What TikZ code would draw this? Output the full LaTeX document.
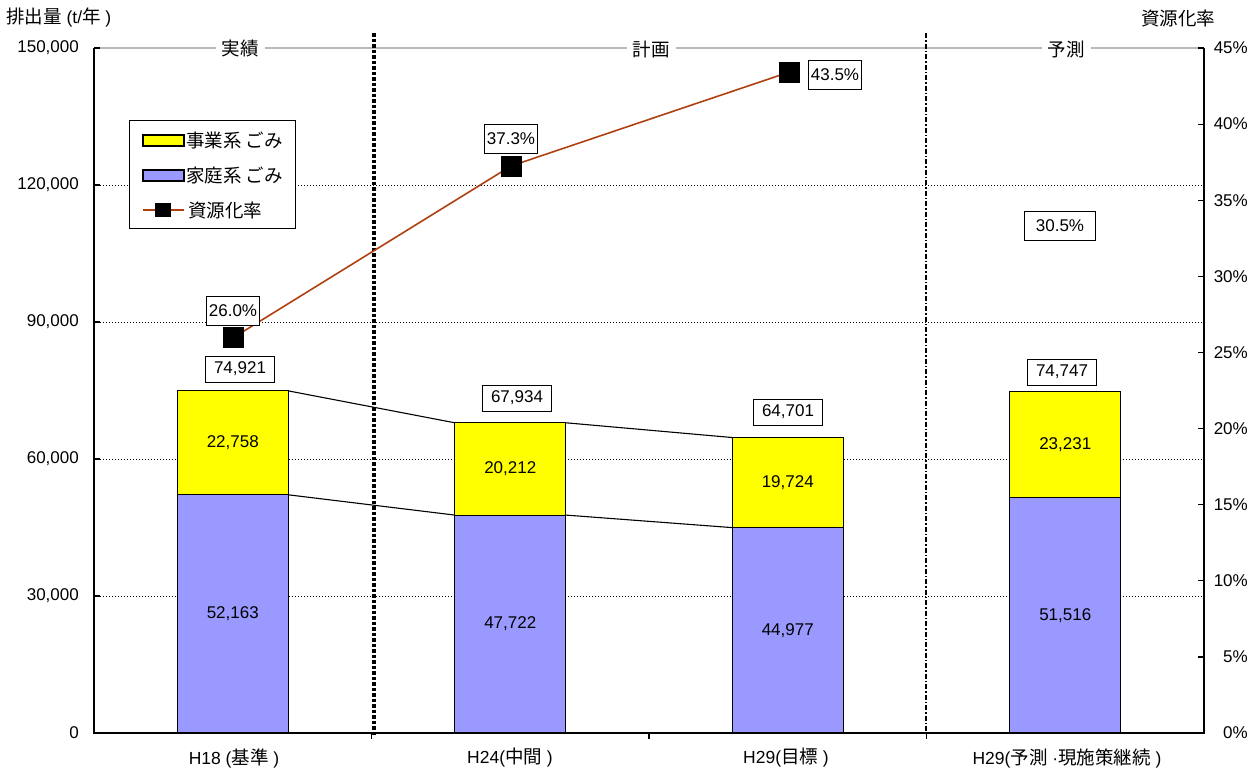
\documentclass[tikz,border=0pt]{standalone}
\usepackage{fontspec}
\setmainfont{Liberation Sans}
\newfontfamily\jp{Noto Sans CJK JP}
\newcommand\jpt[1]{{\jp\fontsize{18.5}{20}\selectfont #1}}
\definecolor{ybar}{RGB}{255,255,0}
\definecolor{bbar}{RGB}{153,153,255}
\definecolor{rline}{RGB}{176,64,16}
\begin{document}
\begin{tikzpicture}[x=1pt,y=-1pt,font=\fontsize{17}{19}\selectfont,
  gridln/.style={dotted, line width=1pt},
  barbox/.style={draw=black, line width=1pt, minimum width=111, inner sep=0, outer sep=0, anchor=south},
  valbox/.style={draw=black, fill=white, line width=1pt, minimum width=69, minimum height=26, inner sep=2pt},
  pctbox/.style={draw=black, fill=white, line width=1pt, minimum width=52, minimum height=29, inner sep=2pt},
  mk/.style={fill=black, minimum size=21, inner sep=0},
  axlab/.style={inner sep=0},
  catlab/.style={font=\fontsize{17.5}{19}\selectfont, inner sep=0},
  toplab/.style={fill=white, font=\jp\fontsize{18.5}{20}\selectfont, inner xsep=6pt, inner ysep=1pt},
  swatch/.style={draw=black, line width=1.2pt, minimum width=41, minimum height=11, inner sep=0},
  legtxt/.style={anchor=west, font=\jp\fontsize{18.5}{20}\selectfont, inner sep=0}]
\useasboundingbox (0,0) rectangle (1260,772);
\fill[white] (0,0) rectangle (1260,772);
% gridlines
\foreach \yy in {185,322,459,596} \draw[gridln] (94,\yy) -- (1204,\yy);
\draw[gray!55, line width=1.6pt] (94,48) -- (1204,48);
\node[toplab] (t1) at (240,49) {実績};
\node[toplab] (t2) at (651,49) {計画};
\node[toplab] (t3) at (1066,49) {予測};
% dividers
\draw[line width=3.6pt, dash pattern=on 3.5pt off 2pt] (374,33) -- (374,735);
\draw[line width=1.8pt, dash pattern=on 5pt off 2pt on 1.5pt off 2pt] (926,33) -- (926,733);
% bars
\node[barbox, fill=bbar, minimum height=238.21] (b1) at (232.75,733) {52,163};
\node[barbox, fill=ybar, minimum height=103.93] (y1) at (b1.north) {22,758};
\node[barbox, fill=bbar, minimum height=217.93] (b2) at (510.25,733) {47,722};
\node[barbox, fill=ybar, minimum height=92.30] (y2) at (b2.north) {20,212};
\node[barbox, fill=bbar, minimum height=205.39] (b3) at (787.75,733) {44,977};
\node[barbox, fill=ybar, minimum height=90.08] (y3) at (b3.north) {19,724};
\node[barbox, fill=bbar, minimum height=235.26] (b4) at (1065.25,733) {51,516};
\node[barbox, fill=ybar, minimum height=106.08] (y4) at (b4.north) {23,231};
% series lines
\draw[line width=1.1pt] (y1.north east) -- (y2.north west);
\draw[line width=1.1pt] (y2.north east) -- (y3.north west);
\draw[line width=1.1pt] (b1.north east) -- (b2.north west);
\draw[line width=1.1pt] (b2.north east) -- (b3.north west);
% totals
\node[valbox] (v1) at (240,369) {74,921};
\node[valbox] (v2) at (517,398) {67,934};
\node[valbox] (v3) at (788,412) {64,701};
\node[valbox] (v4) at (1062,372) {74,747};
% axes
\draw[line width=1.5pt] (94,48) -- (94,733) -- (1204,733) -- (1204,48);
\foreach \yy in {48,185,322,459,596} \draw[line width=1.2pt] (94,\yy) -- (100,\yy);
\foreach \k in {1,...,9} \draw[line width=1.2pt] (1204,733-76.111*\k) -- (1198,733-76.111*\k);
\foreach \xx in {371.5,649,926.5} \draw[line width=1.2pt] (\xx,733) -- (\xx,739);
% rate line
\coordinate (p1) at (233.5,337.5);
\coordinate (p2) at (511,166);
\coordinate (p3) at (789.5,72);
\draw[rline, line width=1.6pt] (p1) -- (p2) -- (p3);
\node[mk] (m1) at (p1) {};
\node[mk] (m2) at (p2) {};
\node[mk] (m3) at (p3) {};
\node[pctbox] (r1) at (233,311) {26.0\%};
\node[pctbox] (r2) at (511,139) {37.3\%};
\node[pctbox] (r3) at (835,75) {43.5\%};
\node[pctbox, minimum width=71] (r4) at (1060,226) {30.5\%};
% legend
\node[draw=black, fill=white, line width=1pt, minimum width=166, minimum height=108, anchor=north west, inner sep=0] (leg) at (129,120) {};
\node[swatch, fill=ybar] (s1) at (163.5,140.5) {};
\node[legtxt] (l1) at (186,140) {事業系 ごみ};
\node[swatch, fill=bbar] (s2) at (163.5,175.5) {};
\node[legtxt] (l2) at (186,175) {家庭系 ごみ};
\coordinate (la) at (143,210);
\coordinate (lb) at (184,210);
\draw[rline, line width=1.6pt] (la) -- (lb);
\node[fill=black, minimum width=16, minimum height=14, inner sep=0] (s3) at (163,210) {};
\node[legtxt] (l3) at (188,210) {資源化率};
% axis labels
\foreach \v/\yy in {0/733, {30,000}/596, {60,000}/459, {90,000}/322, {120,000}/185, {150,000}/48}
  \node[axlab, anchor=east] at (79,\yy) {\v};
\foreach \k in {0,...,9} {
  \pgfmathtruncatemacro\pc{5*\k}
  \node[axlab, anchor=east] at (1248,733-76.111*\k) {\pc\%};
}
% category labels
\node[catlab] (c1) at (234,758) {H18 (\jpt{基準} )};
\node[catlab] (c2) at (510,758) {H24(\jpt{中間} )};
\node[catlab] (c3) at (786,758) {H29(\jpt{目標} )};
\node[catlab] (c4) at (1067,758) {H29(\jpt{予測} ·\jpt{現施策継続} )};
% titles
\node[anchor=west, inner sep=0, font=\fontsize{17.5}{19}\selectfont] (yt1) at (6,18) {\jpt{排出量} (t/\jpt{年} )};
\node[inner sep=0, font=\jp\fontsize{18.5}{20}\selectfont] (yt2) at (1178,18) {資源化率};
\end{tikzpicture}
\end{document}
